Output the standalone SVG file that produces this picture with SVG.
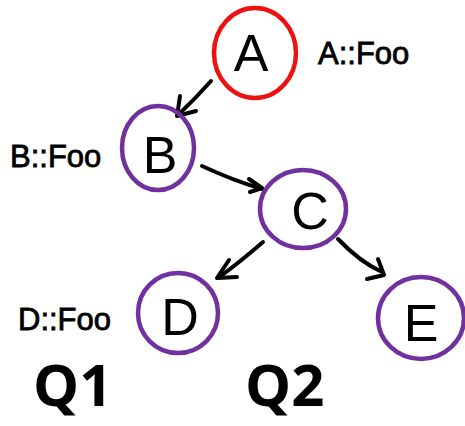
<svg xmlns="http://www.w3.org/2000/svg" width="465" height="426" viewBox="0 0 465 426">
  <style>
    .ring { fill: none; stroke-width: 4.5; stroke-linecap: round; }
    .red { stroke: #ee1111; }
    .purple { stroke: #7030a0; }
    .letter { font-family: "Liberation Sans", "DejaVu Sans", sans-serif; font-size: 52px; fill: #000; text-anchor: middle; }
    .tag { font-family: "Liberation Sans", "DejaVu Sans", sans-serif; font-size: 31px; fill: #000; stroke: #000; stroke-width: 0.8; }
    .q { font-family: "Open Sans", "Liberation Sans", sans-serif; font-size: 58px; font-weight: bold; fill: #000; }
    .edge { fill: none; stroke: #000; stroke-width: 4; stroke-linecap: round; stroke-linejoin: round; }
  </style>
  <rect width="465" height="426" fill="#fff"/>

  <g id="connectors">
    <path class="edge" d="M211,81 Q196,98 178,115"/>
    <path class="edge" d="M180,96 L177,116 L196,111"/>
    <path class="edge" d="M202,166 Q232,180 262,189"/>
    <path class="edge" d="M249,179 L262,188 L250,192"/>
    <path class="edge" d="M263,242 Q240,262 218,278"/>
    <path class="edge" d="M229,260 L217,278 L237,277"/>
    <path class="edge" d="M338,239 Q360,262 382,272"/>
    <path class="edge" d="M378,259 L384,275 L367,279"/>
  </g>

  <g id="node-a">
    <ellipse class="ring red" cx="255" cy="53" rx="41" ry="45"/>
    <text class="letter" x="251" y="71">A</text>
  </g>
  <g id="node-b">
    <ellipse class="ring purple" cx="158" cy="148" rx="36" ry="42"/>
    <text class="letter" x="160" y="173">B</text>
  </g>
  <g id="node-c">
    <ellipse class="ring purple" cx="303" cy="209" rx="43" ry="39"/>
    <text class="letter" x="310" y="229">C</text>
  </g>
  <g id="node-d">
    <ellipse class="ring purple" cx="178" cy="313" rx="40" ry="40"/>
    <text class="letter" x="180" y="335">D</text>
  </g>
  <g id="node-e">
    <ellipse class="ring purple" cx="421" cy="318" rx="43" ry="41"/>
    <text class="letter" x="421" y="341">E</text>
  </g>

  <g id="labels">
    <text class="tag" x="318" y="64">A::Foo</text>
    <text class="tag" x="10" y="167">B::Foo</text>
    <text class="tag" x="18" y="330">D::Foo</text>
    <text class="q" x="33" y="406">Q1</text>
    <text class="q" x="245" y="406">Q2</text>
  </g>
</svg>
